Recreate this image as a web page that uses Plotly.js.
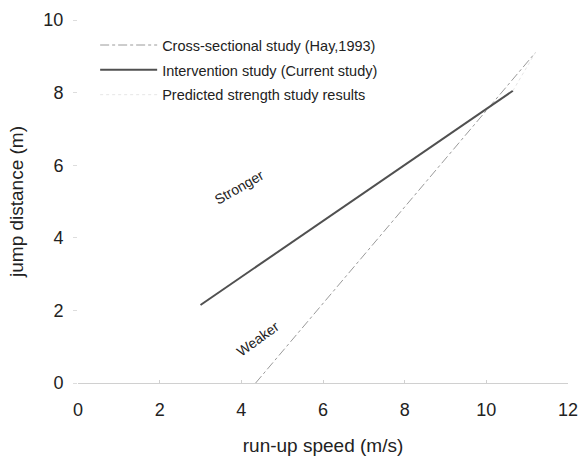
<!DOCTYPE html>
<html>
<head>
<meta charset="utf-8">
<script src="https://cdn.plot.ly/plotly-3.0.1.min.js"></script>
<style>html,body{margin:0;padding:0;background:#fff}#chart{width:580px;height:456px}</style>
</head>
<body>
<div id="chart"></div>
<script>
// Data
const crossX = [4.35, 11.2];
const crossY = [0, 9.1];
const interventionX = [3.0, 10.65];
const interventionY = [2.15, 8.05];
const predictedX = [10.65, 11.2];
const predictedY = [8.05, 9.1];
const seriesNames = ["Cross-sectional study (Hay,1993)", "Intervention study (Current study)", "Predicted strength study results"];
const xTicks = [0, 2, 4, 6, 8, 10, 12];
const yTicks = [0, 2, 4, 6, 8, 10];
const labels = [
  {text: "Stronger", x: 3.95, y: 5.4, angle: -30},
  {text: "Weaker", x: 4.4, y: 1.2, angle: -36}
];

const font = "Liberation Sans, Arial, sans-serif";
const traces = [
  {x: crossX, y: crossY, mode: "lines", name: seriesNames[0], legendgroup: "a",
   line: {color: "#9a9a9a", width: 1, dash: "dashdot"}},
  {x: interventionX, y: interventionY, mode: "lines", name: seriesNames[1], legendgroup: "b",
   line: {color: "#505050", width: 2}},
  {x: predictedX, y: predictedY, mode: "lines", name: seriesNames[2], legendgroup: "c",
   line: {color: "#e6e6e6", width: 1, dash: "dot"}}
];

const layout = {
  width: 580, height: 456,
  margin: {l: 78, r: 12, t: 20, b: 73},
  paper_bgcolor: "#fff", plot_bgcolor: "#fff",
  font: {family: font, color: "#222"},
  showlegend: true,
  legend: {x: 0.035, y: 0.975, xanchor: "left", yanchor: "top", bgcolor: "rgba(0,0,0,0)",
           font: {size: 14.5, color: "#222"}, itemwidth: 57, traceorder: "grouped", tracegroupgap: 3},
  xaxis: {range: [0, 12], tickvals: xTicks, ticktext: xTicks.map(String), showgrid: false, zeroline: false,
          showline: true, linecolor: "#d0d0d0", linewidth: 1, ticks: "inside", ticklen: 3, tickcolor: "#d0d0d0",
          tickfont: {size: 18, color: "#222"}, ticklabelstandoff: 10, ticklabeloverflow: "allow", fixedrange: true,
          title: {text: "run-up speed (m/s)", font: {size: 19, color: "#222"}, standoff: 22}},
  yaxis: {range: [0, 10], tickvals: yTicks, ticktext: yTicks.map(String), showgrid: false, zeroline: false,
          showline: false, ticks: "outside", ticklen: 4, tickcolor: "#dddddd",
          tickfont: {size: 18, color: "#222"}, ticklabelstandoff: 6, ticklabeloverflow: "allow", fixedrange: true,
          title: {text: "jump distance (m)", font: {size: 19, color: "#222"}, standoff: 14}},
  annotations: labels.map(l => ({x: l.x, y: l.y, xref: "x", yref: "y", text: l.text, textangle: l.angle,
    showarrow: false, font: {size: 14, color: "#222", family: font}}))
};

Plotly.newPlot("chart", traces, layout, {staticPlot: true, displayModeBar: false});
</script>
</body>
</html>
